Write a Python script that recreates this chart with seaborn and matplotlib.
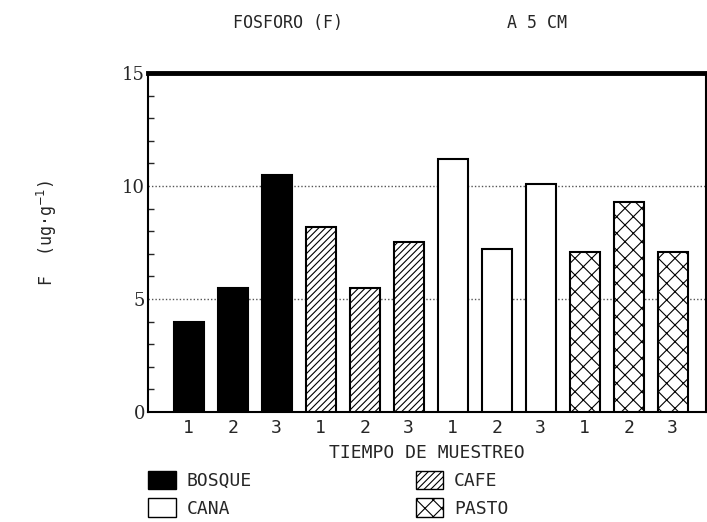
import numpy as np
import pandas as pd
import matplotlib
matplotlib.use("Agg")
import matplotlib.pyplot as plt
import seaborn as sns
from matplotlib.patches import Patch

# values
usos = ["BOSQUE", "CAFE", "CANA", "PASTO"]
tiempos = ["1", "2", "3"]
bosque = [4.0, 5.5, 10.5]
cafe = [8.2, 5.5, 7.5]
cana = [11.2, 7.2, 10.1]
pasto = [7.1, 9.3, 7.1]

def build_frame():
    rows = []
    for uso, vals in zip(usos, [bosque, cafe, cana, pasto]):
        for t, v in zip(tiempos, vals):
            rows.append({"barra": uso + "-" + t, "tiempo": t, "uso": uso, "valor": v})
    return pd.DataFrame(rows)

def draw(data):
    sns.set_style("white")
    plt.rcParams["font.family"] = ["DejaVu Sans Mono"]
    plt.rcParams["hatch.linewidth"] = 0.8

    fig = plt.figure(figsize=(7.07, 5.22), dpi=100)
    ax = fig.add_axes([0.209, 0.211, 0.789, 0.649])

    estilos = {
        "BOSQUE": dict(facecolor="black", hatch=None),
        "CAFE": dict(facecolor="white", hatch="/////"),
        "CANA": dict(facecolor="white", hatch=None),
        "PASTO": dict(facecolor="white", hatch="xx"),
    }

    sns.barplot(data=data, x="barra", y="valor", hue="uso", dodge=False,
                width=0.68, ax=ax, legend=False, edgecolor="black", linewidth=1.5,
                palette={u: "white" for u in usos}, zorder=3)

    for cont, uso in zip(ax.containers, usos):
        for bar in cont:
            bar.set_facecolor(estilos[uso]["facecolor"])
            if estilos[uso]["hatch"]:
                bar.set_hatch(estilos[uso]["hatch"])

    ax.set_ylim(0, 15)
    ax.set_xlim(-0.93, 11.75)
    ax.set_yticks([0, 5, 10, 15])
    ax.set_yticks(np.arange(0, 16, 1), minor=True)
    ax.set_xticks(range(len(data)))
    ax.set_xticklabels(data["tiempo"], fontsize=13)
    ax.tick_params(axis="y", which="major", labelsize=13, length=0, pad=2,
                   labelfontfamily="DejaVu Serif")
    ax.tick_params(axis="y", which="minor", direction="in", length=4, width=1, left=True)
    ax.tick_params(axis="x", length=0, pad=5)

    for y in [5, 10]:
        ax.axhline(y, color="#555555", linestyle=(0, (1, 1.5)), linewidth=1, zorder=1)

    for s in ["left", "bottom", "right"]:
        ax.spines[s].set_linewidth(1.5)
        ax.spines[s].set_color("black")
    ax.spines["top"].set_linewidth(3.5)
    ax.spines["top"].set_color("black")

    ax.set_xlabel("TIEMPO DE MUESTREO", fontsize=13, labelpad=5)
    ax.set_ylabel("F  (ug·g$^{-1}$)", fontsize=12)
    ax.yaxis.set_label_coords(-0.16, 0.53)

    fig.text(0.33, 0.955, "FOSFORO (F)", fontsize=12, ha="left", va="center")
    fig.text(0.717, 0.955, "A 5 CM", fontsize=12, ha="left", va="center")

    handles = [
        Patch(facecolor="black", edgecolor="black", label="BOSQUE"),
        Patch(facecolor="white", edgecolor="black", label="CANA"),
        Patch(facecolor="white", edgecolor="black", hatch="/////", label="CAFE"),
        Patch(facecolor="white", edgecolor="black", hatch="xx", label="PASTO"),
    ]
    fig.legend(handles=handles, ncol=2, loc="upper left", bbox_to_anchor=(0.21, 0.098),
               frameon=False, fontsize=13, handlelength=1.5, handleheight=1.2,
               columnspacing=9.1, labelspacing=0.45, handletextpad=0.6,
               borderaxespad=0, borderpad=0)

    fig.savefig("out.png", dpi=100)
    plt.close(fig)

def main():
    data = build_frame()
    draw(data)

if __name__ == "__main__":
    main()
